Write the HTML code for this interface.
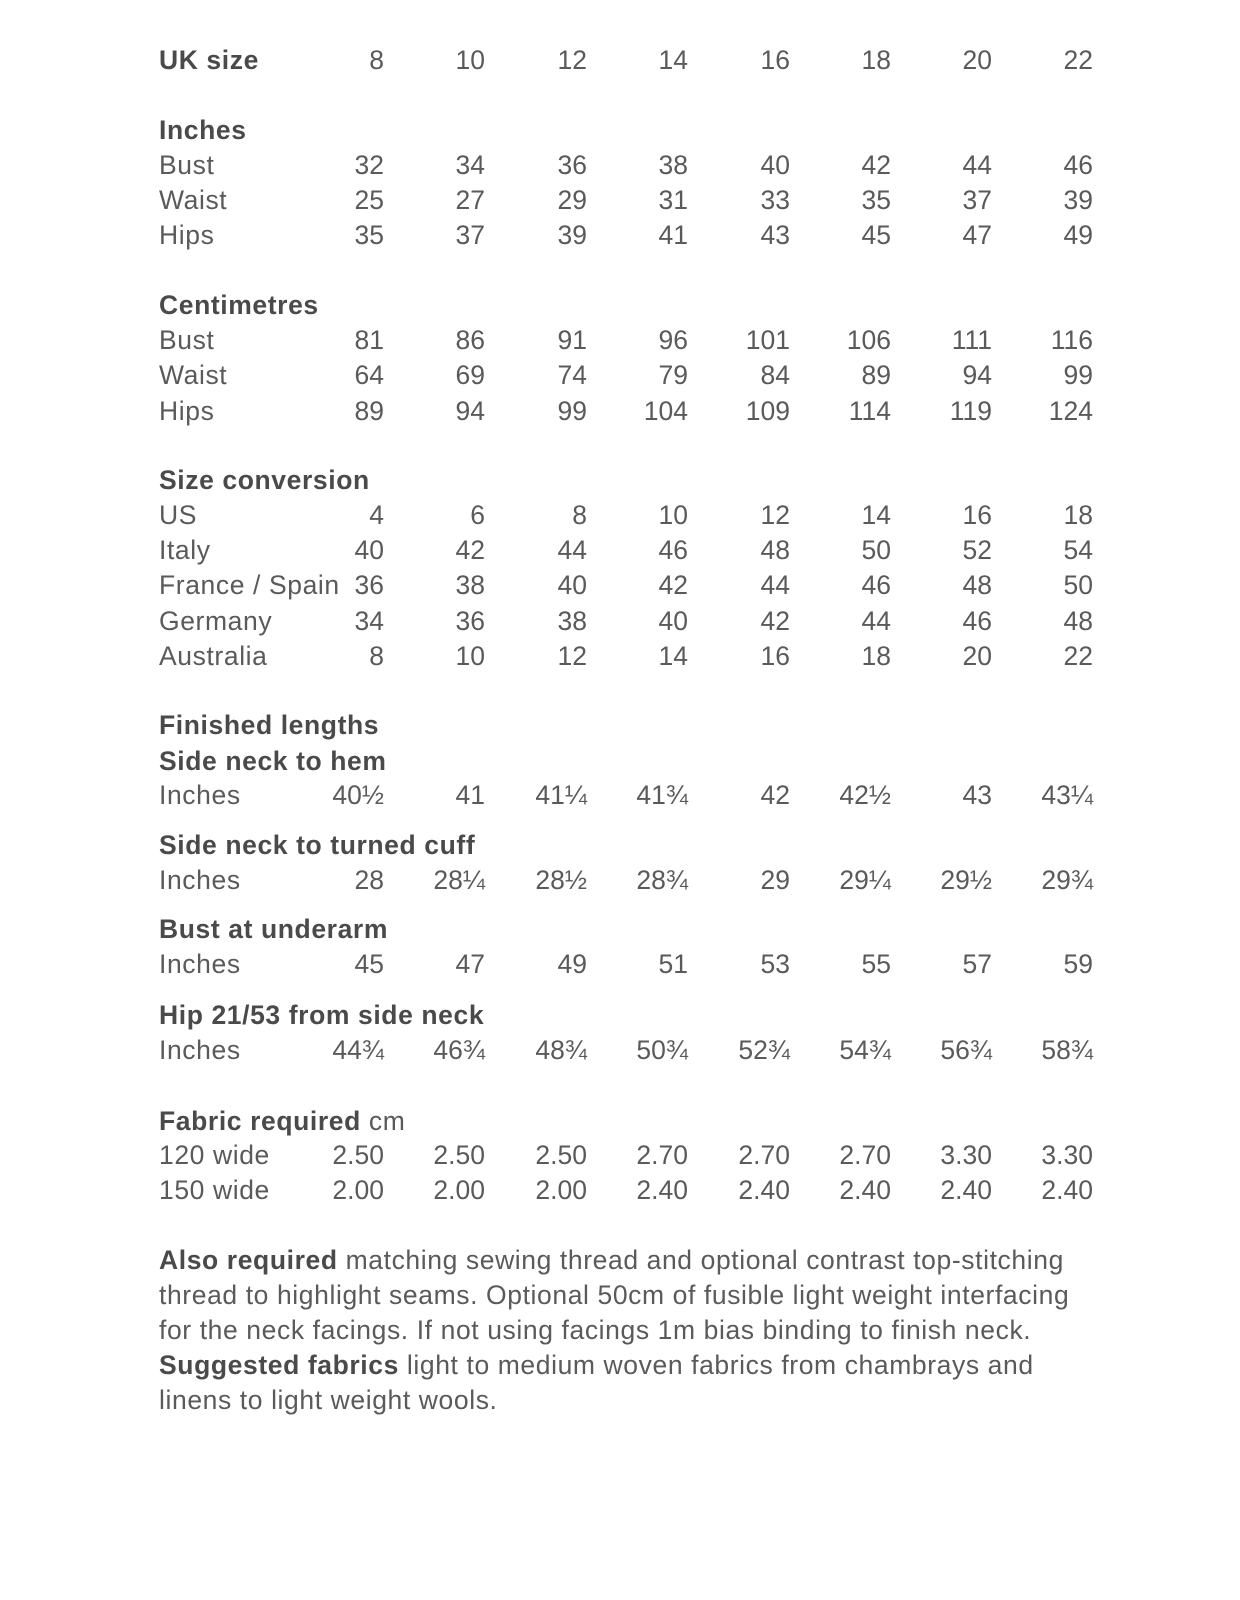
<!DOCTYPE html>
<html><head><meta charset="utf-8"><style>
body{margin:0;background:#fff;width:1240px;height:1600px;position:relative;font-family:"Liberation Sans",sans-serif;font-size:26.5px;color:#5a5a5a;letter-spacing:0.6px;}
.r{position:absolute;left:0;width:1240px;height:30px;line-height:30px;}
.r span{position:absolute;top:0;}
.l{left:159px;}
.h{position:absolute;left:159px;font-weight:bold;color:#4a4a4a;line-height:30px;}
.c1,.c2,.c3,.c4,.c5,.c6,.c7,.c8{width:120px;text-align:right;letter-spacing:0;}
.c1{left:264px}.c2{left:365px}.c3{left:467px}.c4{left:568px}.c5{left:670px}.c6{left:771px}.c7{left:872px}.c8{left:973px}
.p{position:absolute;left:159px;top:1243px;line-height:34.9px;white-space:nowrap;}
.p b{color:#4a4a4a}
</style></head><body>
<div class="r" style="top:45px"><span class="l" style="font-weight:bold;color:#4a4a4a">UK size</span><span class="c1">8</span><span class="c2">10</span><span class="c3">12</span><span class="c4">14</span><span class="c5">16</span><span class="c6">18</span><span class="c7">20</span><span class="c8">22</span></div>

<div class="h" style="top:115px">Inches</div>
<div class="r" style="top:150px"><span class="l">Bust</span><span class="c1">32</span><span class="c2">34</span><span class="c3">36</span><span class="c4">38</span><span class="c5">40</span><span class="c6">42</span><span class="c7">44</span><span class="c8">46</span></div>
<div class="r" style="top:185px"><span class="l">Waist</span><span class="c1">25</span><span class="c2">27</span><span class="c3">29</span><span class="c4">31</span><span class="c5">33</span><span class="c6">35</span><span class="c7">37</span><span class="c8">39</span></div>
<div class="r" style="top:220px"><span class="l">Hips</span><span class="c1">35</span><span class="c2">37</span><span class="c3">39</span><span class="c4">41</span><span class="c5">43</span><span class="c6">45</span><span class="c7">47</span><span class="c8">49</span></div>

<div class="h" style="top:290px">Centimetres</div>
<div class="r" style="top:325px"><span class="l">Bust</span><span class="c1">81</span><span class="c2">86</span><span class="c3">91</span><span class="c4">96</span><span class="c5">101</span><span class="c6">106</span><span class="c7">111</span><span class="c8">116</span></div>
<div class="r" style="top:360px"><span class="l">Waist</span><span class="c1">64</span><span class="c2">69</span><span class="c3">74</span><span class="c4">79</span><span class="c5">84</span><span class="c6">89</span><span class="c7">94</span><span class="c8">99</span></div>
<div class="r" style="top:396px"><span class="l">Hips</span><span class="c1">89</span><span class="c2">94</span><span class="c3">99</span><span class="c4">104</span><span class="c5">109</span><span class="c6">114</span><span class="c7">119</span><span class="c8">124</span></div>

<div class="h" style="top:465px">Size conversion</div>
<div class="r" style="top:500px"><span class="l">US</span><span class="c1">4</span><span class="c2">6</span><span class="c3">8</span><span class="c4">10</span><span class="c5">12</span><span class="c6">14</span><span class="c7">16</span><span class="c8">18</span></div>
<div class="r" style="top:535px"><span class="l">Italy</span><span class="c1">40</span><span class="c2">42</span><span class="c3">44</span><span class="c4">46</span><span class="c5">48</span><span class="c6">50</span><span class="c7">52</span><span class="c8">54</span></div>
<div class="r" style="top:570px"><span class="l">France / Spain</span><span class="c1">36</span><span class="c2">38</span><span class="c3">40</span><span class="c4">42</span><span class="c5">44</span><span class="c6">46</span><span class="c7">48</span><span class="c8">50</span></div>
<div class="r" style="top:606px"><span class="l">Germany</span><span class="c1">34</span><span class="c2">36</span><span class="c3">38</span><span class="c4">40</span><span class="c5">42</span><span class="c6">44</span><span class="c7">46</span><span class="c8">48</span></div>
<div class="r" style="top:641px"><span class="l">Australia</span><span class="c1">8</span><span class="c2">10</span><span class="c3">12</span><span class="c4">14</span><span class="c5">16</span><span class="c6">18</span><span class="c7">20</span><span class="c8">22</span></div>

<div class="h" style="top:710px">Finished lengths</div>
<div class="h" style="top:746px">Side neck to hem</div>
<div class="r" style="top:780px"><span class="l">Inches</span><span class="c1">40½</span><span class="c2">41</span><span class="c3">41¼</span><span class="c4">41¾</span><span class="c5">42</span><span class="c6">42½</span><span class="c7">43</span><span class="c8">43¼</span></div>
<div class="h" style="top:830px">Side neck to turned cuff</div>
<div class="r" style="top:865px"><span class="l">Inches</span><span class="c1">28</span><span class="c2">28¼</span><span class="c3">28½</span><span class="c4">28¾</span><span class="c5">29</span><span class="c6">29¼</span><span class="c7">29½</span><span class="c8">29¾</span></div>
<div class="h" style="top:914px">Bust at underarm</div>
<div class="r" style="top:949px"><span class="l">Inches</span><span class="c1">45</span><span class="c2">47</span><span class="c3">49</span><span class="c4">51</span><span class="c5">53</span><span class="c6">55</span><span class="c7">57</span><span class="c8">59</span></div>
<div class="h" style="top:1000px">Hip 21/53 from side neck</div>
<div class="r" style="top:1035px"><span class="l">Inches</span><span class="c1">44¾</span><span class="c2">46¾</span><span class="c3">48¾</span><span class="c4">50¾</span><span class="c5">52¾</span><span class="c6">54¾</span><span class="c7">56¾</span><span class="c8">58¾</span></div>

<div class="h" style="top:1106px">Fabric required <span style="font-weight:normal;color:#5a5a5a">cm</span></div>
<div class="r" style="top:1140px"><span class="l">120 wide</span><span class="c1">2.50</span><span class="c2">2.50</span><span class="c3">2.50</span><span class="c4">2.70</span><span class="c5">2.70</span><span class="c6">2.70</span><span class="c7">3.30</span><span class="c8">3.30</span></div>
<div class="r" style="top:1175px"><span class="l">150 wide</span><span class="c1">2.00</span><span class="c2">2.00</span><span class="c3">2.00</span><span class="c4">2.40</span><span class="c5">2.40</span><span class="c6">2.40</span><span class="c7">2.40</span><span class="c8">2.40</span></div>

<div class="p"><b>Also required</b> matching sewing thread and optional contrast top-stitching<br>thread to highlight seams. Optional 50cm of fusible light weight interfacing<br>for the neck facings. If not using facings 1m bias binding to finish neck.<br><b>Suggested fabrics</b> light to medium woven fabrics from chambrays and<br>linens to light weight wools.</div>
</body></html>
